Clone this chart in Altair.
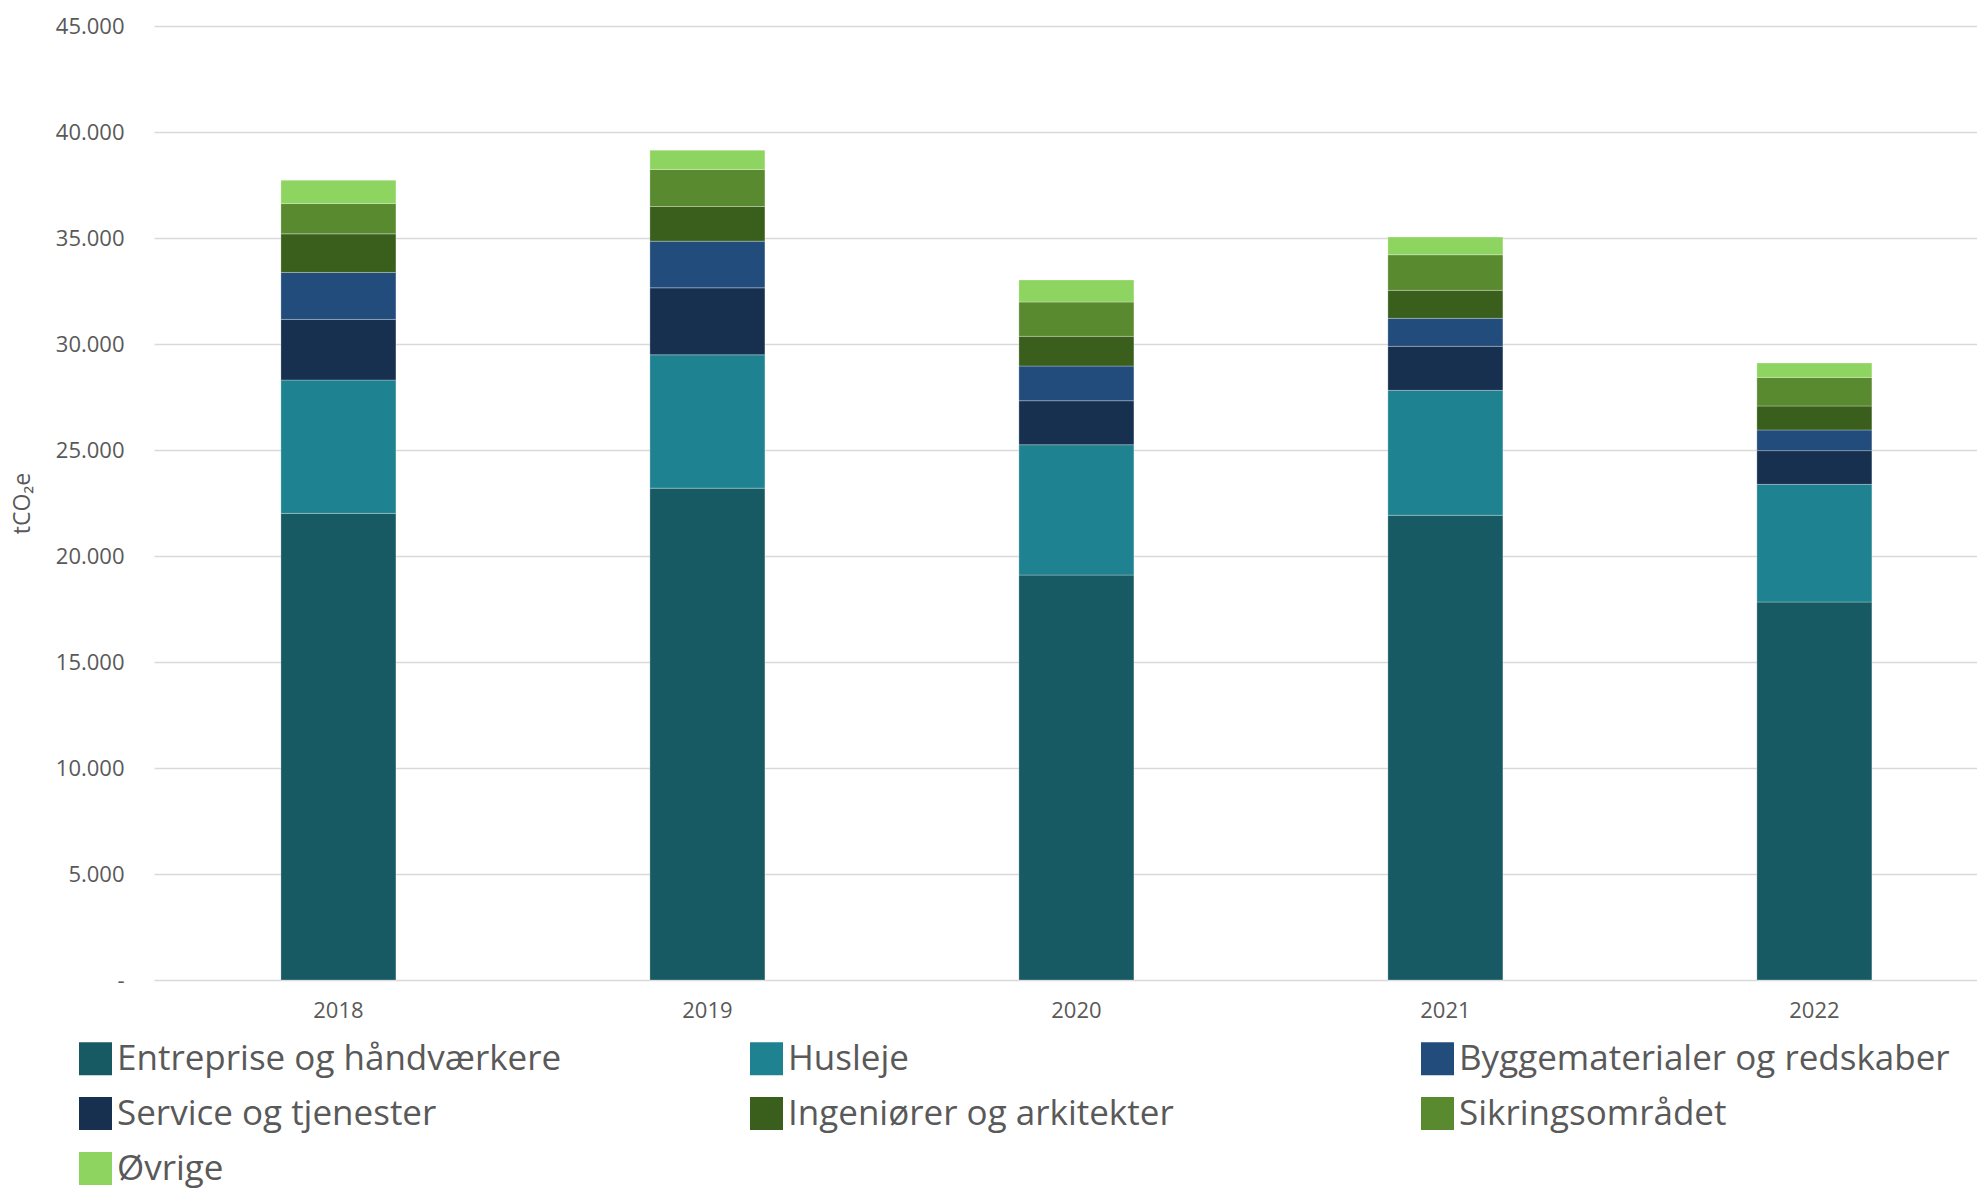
import altair as alt
import pandas as pd

# Emissions by purchase category (tCO2e), one value per year
years = ["2018", "2019", "2020", "2021", "2022"]

entreprise = [22010, 23200, 19100, 21920, 17830]
husleje = [6290, 6290, 6150, 5895, 5550]
service = [2860, 3160, 2075, 2075, 1590]
byggematerialer = [2215, 2200, 1635, 1320, 975]
ingenioerer = [1820, 1635, 1400, 1320, 1130]
sikring = [1430, 1745, 1620, 1680, 1350]
oevrige = [1100, 913, 1040, 835, 675]

# Stacking order, bottom to top
stack_series = [
    ("Entreprise og håndværkere", entreprise),
    ("Husleje", husleje),
    ("Service og tjenester", service),
    ("Byggematerialer og redskaber", byggematerialer),
    ("Ingeniører og arkitekter", ingenioerer),
    ("Sikringsområdet", sikring),
    ("Øvrige", oevrige),
]

# Legend order (row by row, three columns) and colours
legend_order = [
    "Entreprise og håndværkere",
    "Husleje",
    "Byggematerialer og redskaber",
    "Service og tjenester",
    "Ingeniører og arkitekter",
    "Sikringsområdet",
    "Øvrige",
]
legend_colors = [
    "#175A63",
    "#1F8291",
    "#214C7C",
    "#17304F",
    "#3A5F1D",
    "#5A8A30",
    "#8ED460",
]

rows = []
for idx, (name, values) in enumerate(stack_series):
    for year, v in zip(years, values):
        rows.append({"year": year, "category": name, "value": v, "stack": idx})
df = pd.DataFrame(rows)

FONT = "Open Sans"
GREY = "#595959"

bars = (
    alt.Chart(df)
    .mark_bar(stroke="#ffffff", strokeWidth=0.6, strokeOpacity=0.45)
    .encode(
        x=alt.X(
            "year:N",
            sort=years,
            scale=alt.Scale(paddingInner=0.6883, paddingOuter=0.3144, align=0.547),
            axis=alt.Axis(
                title=None,
                labelAngle=0,
                ticks=False,
                domain=False,
                labelPadding=20,
                labelFontSize=22,
                labelColor=GREY,
                labelFont=FONT,
            ),
        ),
        y=alt.Y(
            "value:Q",
            stack="zero",
            scale=alt.Scale(domain=[0, 45000], nice=False),
            axis=alt.Axis(
                title="tCO₂e",
                values=list(range(0, 45001, 5000)),
                labelExpr="datum.value == 0 ? '-\u00a0\u00a0' : replace(format(datum.value, ','), ',', '.')",
                ticks=False,
                domain=False,
                grid=True,
                gridColor="#d9d9d9",
                gridWidth=1.5,
                labelPadding=30,
                labelFontSize=22,
                labelColor=GREY,
                labelFont=FONT,
                titleFont=FONT,
                titleFontSize=23,
                titleFontWeight="normal",
                titleColor=GREY,
                titleX=-132,
                titleY=477,
                titleAlign="center",
                titleBaseline="middle",
            ),
        ),
        color=alt.Color(
            "category:N",
            scale=alt.Scale(domain=legend_order, range=legend_colors),
            legend=alt.Legend(
                title=None,
                orient="none",
                legendX=-76,
                legendY=1015,
                direction="horizontal",
                columns=3,
                gridAlign="all",
                columnPadding=141,
                rowPadding=19,
                symbolType="square",
                symbolSize=1089,
                symbolStrokeWidth=0,
                symbolOpacity=1,
                labelFontSize=35,
                labelFont=FONT,
                labelColor=GREY,
                labelOffset=4,
                labelLimit=800,
                padding=0,
            ),
        ),
        order=alt.Order("stack:Q", sort="ascending"),
    )
)

chart = (
    bars.properties(
        width=1823,
        height=954,
        autosize=alt.AutoSizeParams(type="none"),
        padding={"left": 154, "top": 26, "right": 0, "bottom": 209},
        background="#ffffff",
    )
    .configure_view(stroke=None)
)

chart.save("out.html", embed_options={"renderer": "svg", "actions": False})
